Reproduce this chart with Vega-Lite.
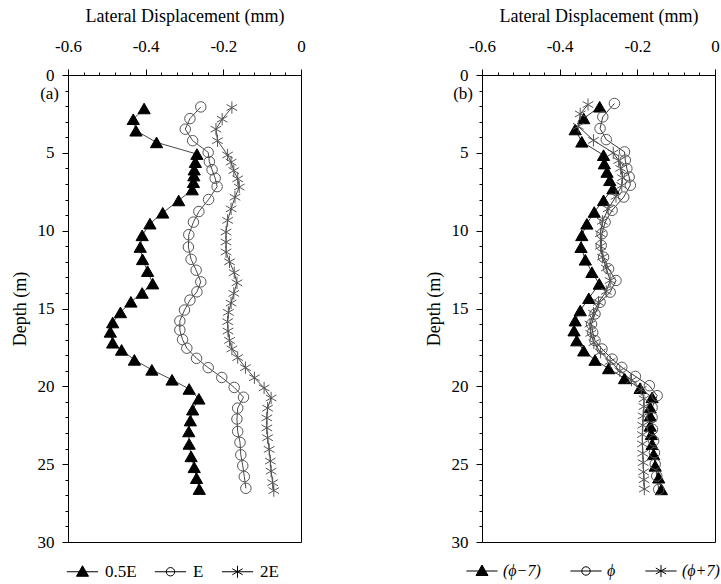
{
  "$schema": "https://vega.github.io/schema/vega-lite/v6.json",
  "padding": {"left": 10, "top": 6, "right": 4, "bottom": 1},
  "background": "white",
  "datasets": {
    "a": [
      {"s":"0.5E","x":-0.404,"d":2.15},{"s":"0.5E","x":-0.432,"d":2.84},{"s":"0.5E","x":-0.425,"d":3.58},{"s":"0.5E","x":-0.372,"d":4.33},{"s":"0.5E","x":-0.268,"d":5.08},{"s":"0.5E","x":-0.272,"d":5.6},{"s":"0.5E","x":-0.275,"d":6.08},{"s":"0.5E","x":-0.276,"d":6.46},{"s":"0.5E","x":-0.277,"d":6.89},{"s":"0.5E","x":-0.28,"d":7.36},{"s":"0.5E","x":-0.315,"d":8.06},{"s":"0.5E","x":-0.356,"d":8.85},{"s":"0.5E","x":-0.389,"d":9.55},{"s":"0.5E","x":-0.409,"d":10.3},{"s":"0.5E","x":-0.414,"d":11.05},{"s":"0.5E","x":-0.408,"d":11.84},{"s":"0.5E","x":-0.395,"d":12.6},{"s":"0.5E","x":-0.382,"d":13.4},{"s":"0.5E","x":-0.409,"d":14.0},{"s":"0.5E","x":-0.438,"d":14.57},{"s":"0.5E","x":-0.465,"d":15.25},{"s":"0.5E","x":-0.485,"d":15.9},{"s":"0.5E","x":-0.491,"d":16.5},{"s":"0.5E","x":-0.485,"d":17.2},{"s":"0.5E","x":-0.462,"d":17.66},{"s":"0.5E","x":-0.429,"d":18.3},{"s":"0.5E","x":-0.384,"d":18.94},{"s":"0.5E","x":-0.332,"d":19.58},{"s":"0.5E","x":-0.288,"d":20.17},{"s":"0.5E","x":-0.263,"d":20.8},{"s":"0.5E","x":-0.279,"d":21.5},{"s":"0.5E","x":-0.285,"d":22.2},{"s":"0.5E","x":-0.289,"d":22.9},{"s":"0.5E","x":-0.288,"d":23.7},{"s":"0.5E","x":-0.283,"d":24.5},{"s":"0.5E","x":-0.275,"d":25.2},{"s":"0.5E","x":-0.269,"d":25.9},{"s":"0.5E","x":-0.262,"d":26.6},
      {"s":"E","x":-0.258,"d":2.05},{"s":"E","x":-0.286,"d":2.8},{"s":"E","x":-0.298,"d":3.48},{"s":"E","x":-0.279,"d":4.22},{"s":"E","x":-0.239,"d":4.97},{"s":"E","x":-0.236,"d":5.57},{"s":"E","x":-0.229,"d":6.08},{"s":"E","x":-0.221,"d":6.63},{"s":"E","x":-0.216,"d":7.17},{"s":"E","x":-0.238,"d":8.0},{"s":"E","x":-0.263,"d":8.77},{"s":"E","x":-0.277,"d":9.45},{"s":"E","x":-0.289,"d":10.26},{"s":"E","x":-0.29,"d":11.05},{"s":"E","x":-0.283,"d":11.84},{"s":"E","x":-0.27,"d":12.54},{"s":"E","x":-0.258,"d":13.29},{"s":"E","x":-0.268,"d":13.93},{"s":"E","x":-0.286,"d":14.46},{"s":"E","x":-0.3,"d":15.1},{"s":"E","x":-0.312,"d":15.8},{"s":"E","x":-0.312,"d":16.38},{"s":"E","x":-0.305,"d":17.0},{"s":"E","x":-0.294,"d":17.55},{"s":"E","x":-0.269,"d":18.2},{"s":"E","x":-0.239,"d":18.8},{"s":"E","x":-0.204,"d":19.43},{"s":"E","x":-0.172,"d":20.07},{"s":"E","x":-0.148,"d":20.7},{"s":"E","x":-0.163,"d":21.4},{"s":"E","x":-0.165,"d":22.1},{"s":"E","x":-0.163,"d":22.9},{"s":"E","x":-0.157,"d":23.6},{"s":"E","x":-0.155,"d":24.4},{"s":"E","x":-0.15,"d":25.1},{"s":"E","x":-0.146,"d":25.8},{"s":"E","x":-0.142,"d":26.55},
      {"s":"2E","x":-0.178,"d":2.09},{"s":"2E","x":-0.203,"d":2.84},{"s":"2E","x":-0.219,"d":3.48},{"s":"2E","x":-0.215,"d":4.22},{"s":"2E","x":-0.189,"d":5.14},{"s":"2E","x":-0.18,"d":5.6},{"s":"2E","x":-0.173,"d":6.14},{"s":"2E","x":-0.163,"d":6.67},{"s":"2E","x":-0.159,"d":7.2},{"s":"2E","x":-0.17,"d":7.85},{"s":"2E","x":-0.18,"d":8.6},{"s":"2E","x":-0.189,"d":9.34},{"s":"2E","x":-0.193,"d":10.09},{"s":"2E","x":-0.193,"d":10.73},{"s":"2E","x":-0.193,"d":11.37},{"s":"2E","x":-0.184,"d":12.0},{"s":"2E","x":-0.172,"d":12.7},{"s":"2E","x":-0.165,"d":13.35},{"s":"2E","x":-0.173,"d":14.03},{"s":"2E","x":-0.18,"d":14.65},{"s":"2E","x":-0.187,"d":15.25},{"s":"2E","x":-0.189,"d":15.85},{"s":"2E","x":-0.188,"d":16.45},{"s":"2E","x":-0.184,"d":17.05},{"s":"2E","x":-0.178,"d":17.6},{"s":"2E","x":-0.163,"d":18.15},{"s":"2E","x":-0.143,"d":18.8},{"s":"2E","x":-0.12,"d":19.45},{"s":"2E","x":-0.095,"d":20.1},{"s":"2E","x":-0.077,"d":20.75},{"s":"2E","x":-0.086,"d":21.4},{"s":"2E","x":-0.088,"d":22.03},{"s":"2E","x":-0.088,"d":22.67},{"s":"2E","x":-0.086,"d":23.3},{"s":"2E","x":-0.082,"d":24.05},{"s":"2E","x":-0.079,"d":24.8},{"s":"2E","x":-0.077,"d":25.45},{"s":"2E","x":-0.073,"d":26.19},{"s":"2E","x":-0.07,"d":26.7}
    ],
    "b": [
      {"s":"(ϕ−7)","x":-0.297,"d":2.04},{"s":"(ϕ−7)","x":-0.338,"d":2.79},{"s":"(ϕ−7)","x":-0.36,"d":3.5},{"s":"(ϕ−7)","x":-0.343,"d":4.29},{"s":"(ϕ−7)","x":-0.287,"d":5.15},{"s":"(ϕ−7)","x":-0.285,"d":5.69},{"s":"(ϕ−7)","x":-0.278,"d":6.23},{"s":"(ϕ−7)","x":-0.271,"d":6.76},{"s":"(ϕ−7)","x":-0.263,"d":7.3},{"s":"(ϕ−7)","x":-0.287,"d":8.05},{"s":"(ϕ−7)","x":-0.311,"d":8.8},{"s":"(ϕ−7)","x":-0.33,"d":9.56},{"s":"(ϕ−7)","x":-0.343,"d":10.3},{"s":"(ϕ−7)","x":-0.345,"d":11.06},{"s":"(ϕ−7)","x":-0.334,"d":11.87},{"s":"(ϕ−7)","x":-0.317,"d":12.67},{"s":"(ϕ−7)","x":-0.298,"d":13.42},{"s":"(ϕ−7)","x":-0.325,"d":14.34},{"s":"(ϕ−7)","x":-0.347,"d":15.13},{"s":"(ϕ−7)","x":-0.36,"d":15.78},{"s":"(ϕ−7)","x":-0.363,"d":16.42},{"s":"(ϕ−7)","x":-0.356,"d":17.06},{"s":"(ϕ−7)","x":-0.338,"d":17.71},{"s":"(ϕ−7)","x":-0.309,"d":18.31},{"s":"(ϕ−7)","x":-0.274,"d":18.85},{"s":"(ϕ−7)","x":-0.233,"d":19.49},{"s":"(ϕ−7)","x":-0.193,"d":20.12},{"s":"(ϕ−7)","x":-0.162,"d":20.71},{"s":"(ϕ−7)","x":-0.167,"d":21.36},{"s":"(ϕ−7)","x":-0.167,"d":21.89},{"s":"(ϕ−7)","x":-0.167,"d":22.54},{"s":"(ϕ−7)","x":-0.164,"d":23.08},{"s":"(ϕ−7)","x":-0.162,"d":23.72},{"s":"(ϕ−7)","x":-0.158,"d":24.37},{"s":"(ϕ−7)","x":-0.154,"d":25.11},{"s":"(ϕ−7)","x":-0.145,"d":25.87},{"s":"(ϕ−7)","x":-0.138,"d":26.62},
      {"s":"ϕ","x":-0.259,"d":1.83},{"s":"ϕ","x":-0.289,"d":2.69},{"s":"ϕ","x":-0.296,"d":3.44},{"s":"ϕ","x":-0.28,"d":4.15},{"s":"ϕ","x":-0.233,"d":4.94},{"s":"ϕ","x":-0.231,"d":5.47},{"s":"ϕ","x":-0.227,"d":6.01},{"s":"ϕ","x":-0.221,"d":6.55},{"s":"ϕ","x":-0.218,"d":7.08},{"s":"ϕ","x":-0.235,"d":7.84},{"s":"ϕ","x":-0.265,"d":8.69},{"s":"ϕ","x":-0.283,"d":9.45},{"s":"ϕ","x":-0.291,"d":10.2},{"s":"ϕ","x":-0.293,"d":10.95},{"s":"ϕ","x":-0.287,"d":11.7},{"s":"ϕ","x":-0.274,"d":12.45},{"s":"ϕ","x":-0.255,"d":13.2},{"s":"ϕ","x":-0.27,"d":13.95},{"s":"ϕ","x":-0.296,"d":14.6},{"s":"ϕ","x":-0.309,"d":15.35},{"s":"ϕ","x":-0.318,"d":16.0},{"s":"ϕ","x":-0.315,"d":16.53},{"s":"ϕ","x":-0.309,"d":17.06},{"s":"ϕ","x":-0.291,"d":17.6},{"s":"ϕ","x":-0.265,"d":18.25},{"s":"ϕ","x":-0.24,"d":18.78},{"s":"ϕ","x":-0.205,"d":19.36},{"s":"ϕ","x":-0.169,"d":19.96},{"s":"ϕ","x":-0.149,"d":20.6},{"s":"ϕ","x":-0.162,"d":21.36},{"s":"ϕ","x":-0.162,"d":22.0},{"s":"ϕ","x":-0.161,"d":22.76},{"s":"ϕ","x":-0.158,"d":23.5},{"s":"ϕ","x":-0.156,"d":24.26},{"s":"ϕ","x":-0.154,"d":25.0},{"s":"ϕ","x":-0.15,"d":25.76},{"s":"ϕ","x":-0.145,"d":26.62},
      {"s":"(ϕ+7)","x":-0.327,"d":1.9},{"s":"(ϕ+7)","x":-0.347,"d":2.5},{"s":"(ϕ+7)","x":-0.352,"d":3.3},{"s":"(ϕ+7)","x":-0.313,"d":4.2},{"s":"(ϕ+7)","x":-0.262,"d":5.0},{"s":"(ϕ+7)","x":-0.248,"d":5.5},{"s":"(ϕ+7)","x":-0.243,"d":6.0},{"s":"(ϕ+7)","x":-0.238,"d":6.6},{"s":"(ϕ+7)","x":-0.24,"d":7.1},{"s":"(ϕ+7)","x":-0.255,"d":7.8},{"s":"(ϕ+7)","x":-0.275,"d":8.6},{"s":"(ϕ+7)","x":-0.29,"d":9.4},{"s":"(ϕ+7)","x":-0.295,"d":10.2},{"s":"(ϕ+7)","x":-0.295,"d":11.0},{"s":"(ϕ+7)","x":-0.29,"d":11.7},{"s":"(ϕ+7)","x":-0.28,"d":12.4},{"s":"(ϕ+7)","x":-0.27,"d":13.2},{"s":"(ϕ+7)","x":-0.28,"d":13.9},{"s":"(ϕ+7)","x":-0.3,"d":14.6},{"s":"(ϕ+7)","x":-0.313,"d":15.3},{"s":"(ϕ+7)","x":-0.322,"d":16.0},{"s":"(ϕ+7)","x":-0.32,"d":16.6},{"s":"(ϕ+7)","x":-0.312,"d":17.2},{"s":"(ϕ+7)","x":-0.295,"d":17.8},{"s":"(ϕ+7)","x":-0.27,"d":18.4},{"s":"(ϕ+7)","x":-0.245,"d":19.0},{"s":"(ϕ+7)","x":-0.215,"d":19.6},{"s":"(ϕ+7)","x":-0.19,"d":20.2},{"s":"(ϕ+7)","x":-0.183,"d":20.8},{"s":"(ϕ+7)","x":-0.183,"d":21.3},{"s":"(ϕ+7)","x":-0.185,"d":21.9},{"s":"(ϕ+7)","x":-0.186,"d":22.5},{"s":"(ϕ+7)","x":-0.187,"d":23.1},{"s":"(ϕ+7)","x":-0.187,"d":23.7},{"s":"(ϕ+7)","x":-0.186,"d":24.3},{"s":"(ϕ+7)","x":-0.185,"d":24.9},{"s":"(ϕ+7)","x":-0.184,"d":25.5},{"s":"(ϕ+7)","x":-0.183,"d":26.0},{"s":"(ϕ+7)","x":-0.182,"d":26.6}
    ]
  },
  "hconcat": [
    {
      "width": 233, "height": 467,
      "data": {"name": "a"},
      "layer": [
        {
          "mark": {"type": "line", "color": "#333", "strokeWidth": 0.9},
          "encoding": {
            "x": {"field": "x", "type": "quantitative", "scale": {"domain": [-0.6, 0], "nice": false, "zero": false},
                  "axis": {"orient": "top", "title": "Lateral Displacement (mm)", "values": [-0.6, -0.4, -0.2, 0], "labelExpr": "datum.value === 0 ? '0' : '-' + format(abs(datum.value), '.1f')", "tickSize": 6, "labelPadding": 14, "titlePadding": 12, "labelFlush": false, "labelOverlap": false}},
            "y": {"field": "d", "type": "quantitative", "scale": {"domain": [0, 30], "reverse": true, "nice": false, "zero": false},
                  "axis": {"orient": "left", "title": "Depth (m)", "values": [0, 5, 10, 15, 20, 25, 30], "tickSize": 6, "labelPadding": 8, "titlePadding": 8, "labelFlush": false, "labelOverlap": false}},
            "detail": {"field": "s"},
            "order": {"field": "d", "type": "quantitative"}
          }
        },
        {
          "mark": {"type": "point", "filled": true, "opacity": 1, "strokeWidth": 1},
          "encoding": {
            "x": {"field": "x", "type": "quantitative", "axis": {"orient": "top", "title": null, "labels": false, "domain": false, "tickSize": 3, "values": [-0.56, -0.52, -0.48, -0.44, -0.36, -0.32, -0.28, -0.24, -0.16, -0.12, -0.08, -0.04]}},
            "y": {"field": "d", "type": "quantitative", "axis": {"orient": "left", "title": null, "labels": false, "domain": false, "tickSize": 3, "values": [1,2,3,4,6,7,8,9,11,12,13,14,16,17,18,19,21,22,23,24,26,27,28,29]}},
            "shape": {"condition": [{"test": "datum.s === '0.5E'", "value": "triangle-up"}, {"test": "datum.s === 'E'", "value": "circle"}], "value": "M0,-1L0,1M-0.866,-0.5L0.866,0.5M-0.866,0.5L0.866,-0.5"},
            "fill": {"condition": {"test": "datum.s === '0.5E'", "value": "black"}, "value": "transparent"},
            "stroke": {"condition": {"test": "datum.s === '0.5E'", "value": "black"}, "value": "#555"},
            "size": {"condition": {"test": "datum.s === 'E'", "value": 110}, "value": 150}
          }
        },
        {
          "transform": [{"filter": "false"}],
          "mark": {"type": "point", "filled": true, "strokeWidth": 1, "size": 144, "opacity": 1},
          "encoding": {
            "x": {"field": "x", "type": "quantitative", "axis": null},
            "y": {"field": "d", "type": "quantitative", "axis": null},
            "shape": {"field": "s", "type": "nominal", "scale": {"domain": ["0.5E", "E", "2E"], "range": ["M-2.6,0L2.6,0M0,-1L1,0.75L-1,0.75Z", "M-2.6,0L2.6,0M0.7,0A0.7,0.7,0,1,1,-0.7,0A0.7,0.7,0,1,1,0.7,0", "M-2.6,0L2.6,0M0,-1L0,1M-0.866,-0.5L0.866,0.5M-0.866,0.5L0.866,-0.5"]},
                      "legend": {"orient": "bottom", "direction": "horizontal", "title": null, "labelFontSize": 17, "labelFont": "Liberation Serif", "labelColor": "black", "symbolSize": 144, "symbolOffset": 6, "labelOffset": 14, "columnPadding": 15, "offset": 21, "symbolStrokeWidth": 1}},
            "fill": {"field": "s", "type": "nominal", "scale": {"domain": ["0.5E", "E", "2E"], "range": ["black", "transparent", "transparent"]},
                      "legend": {"orient": "bottom", "direction": "horizontal", "title": null, "labelFontSize": 17, "labelFont": "Liberation Serif", "labelColor": "black", "symbolSize": 144, "symbolOffset": 6, "labelOffset": 14, "columnPadding": 15, "offset": 21, "symbolStrokeWidth": 1}},
            "stroke": {"field": "s", "type": "nominal", "scale": {"domain": ["0.5E", "E", "2E"], "range": ["black", "black", "black"]},
                      "legend": {"orient": "bottom", "direction": "horizontal", "title": null, "labelFontSize": 17, "labelFont": "Liberation Serif", "labelColor": "black", "symbolSize": 144, "symbolOffset": 6, "labelOffset": 14, "columnPadding": 15, "offset": 21, "symbolStrokeWidth": 1}}
          }
        },
        {
          "data": {"values": [{"t": "(a)", "x": -0.6, "d": 1.25}]},
          "mark": {"type": "text", "align": "right", "baseline": "middle", "dx": -9, "fontSize": 17, "font": "Liberation Serif", "color": "black"},
          "encoding": {
            "x": {"field": "x", "type": "quantitative", "axis": null},
            "y": {"field": "d", "type": "quantitative", "axis": null},
            "text": {"field": "t"}
          }
        }
      ],
      "resolve": {"axis": {"x": "independent", "y": "independent"}}
    },
    {
      "width": 233, "height": 467,
      "data": {"name": "b"},
      "layer": [
        {
          "mark": {"type": "line", "color": "#222", "strokeWidth": 0.9},
          "encoding": {
            "x": {"field": "x", "type": "quantitative", "scale": {"domain": [-0.6, 0], "nice": false, "zero": false},
                  "axis": {"orient": "top", "title": "Lateral Displacement (mm)", "values": [-0.6, -0.4, -0.2, 0], "labelExpr": "datum.value === 0 ? '0' : '-' + format(abs(datum.value), '.1f')", "tickSize": 6, "labelPadding": 14, "titlePadding": 12, "labelFlush": false, "labelOverlap": false}},
            "y": {"field": "d", "type": "quantitative", "scale": {"domain": [0, 30], "reverse": true, "nice": false, "zero": false},
                  "axis": {"orient": "left", "title": "Depth (m)", "values": [0, 5, 10, 15, 20, 25, 30], "tickSize": 6, "labelPadding": 8, "titlePadding": 8, "labelFlush": false, "labelOverlap": false}},
            "detail": {"field": "s"},
            "order": {"field": "d", "type": "quantitative"}
          }
        },
        {
          "mark": {"type": "point", "filled": true, "opacity": 1, "strokeWidth": 1},
          "encoding": {
            "x": {"field": "x", "type": "quantitative", "axis": {"orient": "top", "title": null, "labels": false, "domain": false, "tickSize": 3, "values": [-0.56, -0.52, -0.48, -0.44, -0.36, -0.32, -0.28, -0.24, -0.16, -0.12, -0.08, -0.04]}},
            "y": {"field": "d", "type": "quantitative", "axis": {"orient": "left", "title": null, "labels": false, "domain": false, "tickSize": 3, "values": [1,2,3,4,6,7,8,9,11,12,13,14,16,17,18,19,21,22,23,24,26,27,28,29]}},
            "shape": {"condition": [{"test": "datum.s === '(ϕ−7)'", "value": "triangle-up"}, {"test": "datum.s === 'ϕ'", "value": "circle"}], "value": "M0,-1L0,1M-0.866,-0.5L0.866,0.5M-0.866,0.5L0.866,-0.5"},
            "fill": {"condition": {"test": "datum.s === '(ϕ−7)'", "value": "black"}, "value": "transparent"},
            "stroke": {"condition": {"test": "datum.s === '(ϕ−7)'", "value": "black"}, "value": "#555"},
            "size": {"condition": {"test": "datum.s === 'ϕ'", "value": 110}, "value": 150}
          }
        },
        {
          "transform": [{"filter": "false"}],
          "mark": {"type": "point", "filled": true, "strokeWidth": 1, "size": 144, "opacity": 1},
          "encoding": {
            "x": {"field": "x", "type": "quantitative", "axis": null},
            "y": {"field": "d", "type": "quantitative", "axis": null},
            "shape": {"field": "s", "type": "nominal", "scale": {"domain": ["(ϕ−7)", "ϕ", "(ϕ+7)"], "range": ["M-2.6,0L2.6,0M0,-1L1,0.75L-1,0.75Z", "M-2.6,0L2.6,0M0.7,0A0.7,0.7,0,1,1,-0.7,0A0.7,0.7,0,1,1,0.7,0", "M-2.6,0L2.6,0M0,-1L0,1M-0.866,-0.5L0.866,0.5M-0.866,0.5L0.866,-0.5"]},
                      "legend": {"orient": "bottom", "direction": "horizontal", "title": null, "labelFontSize": 16, "labelFont": "Liberation Serif", "labelFontStyle": "italic", "labelColor": "black", "symbolSize": 144, "symbolOffset": -8, "labelOffset": 13, "columnPadding": 27, "offset": 21, "symbolStrokeWidth": 1}},
            "fill": {"field": "s", "type": "nominal", "scale": {"domain": ["(ϕ−7)", "ϕ", "(ϕ+7)"], "range": ["black", "transparent", "transparent"]},
                      "legend": {"orient": "bottom", "direction": "horizontal", "title": null, "labelFontSize": 16, "labelFont": "Liberation Serif", "labelFontStyle": "italic", "labelColor": "black", "symbolSize": 144, "symbolOffset": -8, "labelOffset": 13, "columnPadding": 27, "offset": 21, "symbolStrokeWidth": 1}},
            "stroke": {"field": "s", "type": "nominal", "scale": {"domain": ["(ϕ−7)", "ϕ", "(ϕ+7)"], "range": ["black", "black", "black"]},
                      "legend": {"orient": "bottom", "direction": "horizontal", "title": null, "labelFontSize": 16, "labelFont": "Liberation Serif", "labelFontStyle": "italic", "labelColor": "black", "symbolSize": 144, "symbolOffset": -8, "labelOffset": 13, "columnPadding": 27, "offset": 21, "symbolStrokeWidth": 1}}
          }
        },
        {
          "data": {"values": [{"t": "(b)", "x": -0.6, "d": 1.25}]},
          "mark": {"type": "text", "align": "right", "baseline": "middle", "dx": -9, "fontSize": 17, "font": "Liberation Serif", "color": "black"},
          "encoding": {
            "x": {"field": "x", "type": "quantitative", "axis": null},
            "y": {"field": "d", "type": "quantitative", "axis": null},
            "text": {"field": "t"}
          }
        }
      ],
      "resolve": {"axis": {"x": "independent", "y": "independent"}}
    }
  ],
  "spacing": 118,
  "resolve": {
    "scale": {"x": "independent", "y": "independent", "shape": "independent", "fill": "independent", "stroke": "independent"},
    "legend": {"shape": "independent", "fill": "independent", "stroke": "independent"}
  },
  "config": {
    "font": "Liberation Serif",
    "view": {"stroke": "black", "strokeWidth": 1},
    "axis": {"labelFont": "Liberation Serif", "titleFont": "Liberation Serif", "labelFontSize": 17, "titleFontSize": 18, "titleFontWeight": "normal", "labelColor": "black", "titleColor": "black", "tickColor": "black", "domainColor": "black", "grid": false, "tickWidth": 1, "domainWidth": 1},
    "legend": {"labelFont": "Liberation Serif", "labelColor": "black"}
  }
}
